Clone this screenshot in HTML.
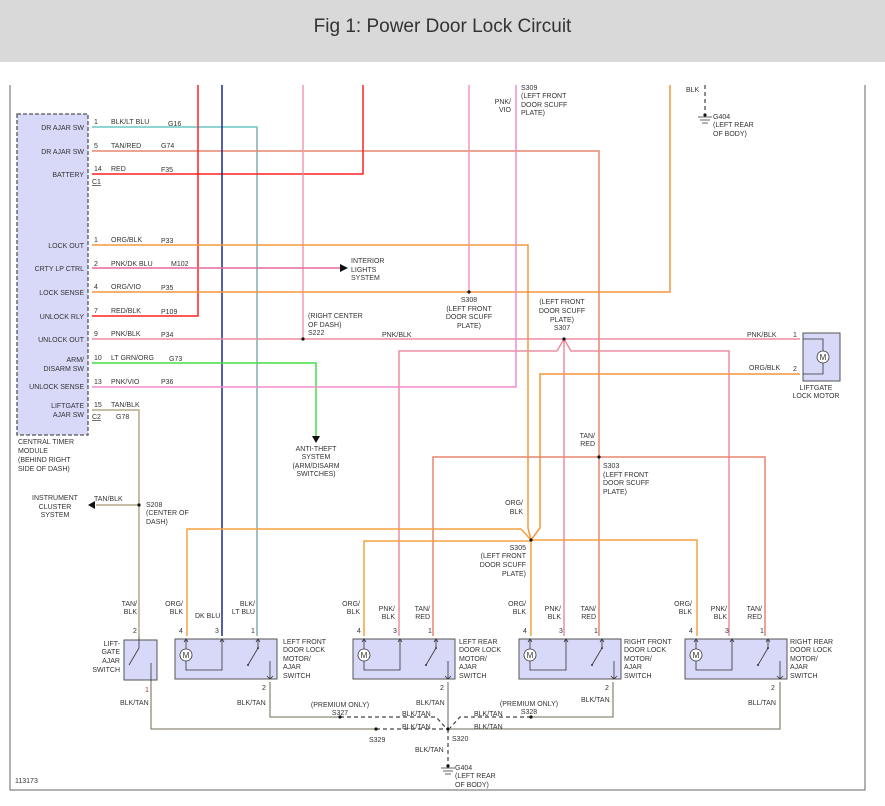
<!DOCTYPE html>
<html><head><meta charset="utf-8"><style>
html,body{margin:0;padding:0;background:#fff;}
body{width:885px;height:806px;overflow:hidden;font-family:"Liberation Sans",sans-serif;}
.hdr{position:absolute;left:0;top:0;width:885px;height:62px;background:#d9d9d9;text-align:center;line-height:54px;font-size:19px;color:#333;}
svg{position:absolute;left:0;top:0;}
text{font-family:"Liberation Sans",sans-serif;font-size:7px;fill:#333;}
.r{text-anchor:end}.m{text-anchor:middle}
</style></head><body>
<div class="hdr">Fig 1: Power Door Lock Circuit</div>
<svg width="885" height="806" viewBox="0 0 885 806">
<defs>
<g id="door">
<rect x="0" y="0" width="102" height="40" fill="#d8d8f8" stroke="#555" stroke-width="1"/>
<circle cx="11" cy="16" r="6" fill="#fff" stroke="#333" stroke-width="0.8"/>
<text x="11" y="19" class="m" style="font-size:8px">M</text>
<path d="M11 0V10M11 22V31H47V0M83 0V8M83 9L73 26" fill="none" stroke="#333" stroke-width="0.8"/>
<circle cx="83" cy="9" r="1" fill="#333"/><circle cx="73" cy="26" r="1" fill="#333"/>
<path d="M95 22V40M92 37L95 40L98 37M9 3L11 0L13 3M45 3L47 0L49 3M81 3L83 0L85 3" fill="none" stroke="#333" stroke-width="0.8"/>
</g>
</defs>
<!-- frame -->
<path d="M10 85V790H865V85" fill="none" stroke="#666" stroke-width="1"/>
<!-- module -->
<rect x="17" y="114" width="71" height="321" fill="#d8d8f8" stroke="#555" stroke-width="1.3" stroke-dasharray="4,2"/>
<g font-size="7">
<text x="84" y="130" class="r">DR AJAR SW</text>
<text x="84" y="154" class="r">DR AJAR SW</text>
<text x="84" y="177" class="r">BATTERY</text>
<text x="84" y="248" class="r">LOCK OUT</text>
<text x="84" y="271" class="r">CRTY LP CTRL</text>
<text x="84" y="295" class="r">LOCK SENSE</text>
<text x="84" y="319" class="r">UNLOCK RLY</text>
<text x="84" y="342" class="r">UNLOCK OUT</text>
<text x="84" y="362" class="r">ARM/</text>
<text x="84" y="371" class="r">DISARM SW</text>
<text x="84" y="389" class="r">UNLOCK SENSE</text>
<text x="84" y="408" class="r">LIFTGATE</text>
<text x="84" y="417" class="r">AJAR SW</text>
<text x="18" y="444">CENTRAL TIMER</text>
<text x="18" y="453">MODULE</text>
<text x="18" y="462">(BEHIND RIGHT</text>
<text x="18" y="471">SIDE OF DASH)</text>
</g>
<!-- wires -->
<g fill="none" stroke-width="1.5">
<path d="M92 127H257V636" stroke="#6cc6c6"/>
<path d="M257 128V636" stroke="#999" stroke-width="0.8"/>
<path d="M92 151H599V636" stroke="#e8856e"/>
<path d="M92 174H363V85" stroke="#ff2020"/>
<path d="M198 85V316H92" stroke="#ff2020"/>
<path d="M222 85V636" stroke="#1a2a8c"/>
<path d="M303 85V339" stroke="#f39aae"/>
<path d="M92 245H528V528L531 540" stroke="#f39a3e"/>
<path d="M92 268H340" stroke="#e46a9a"/>
<path d="M92 292H670V85" stroke="#f7963e"/>
<path d="M469 85V292" stroke="#f39aae"/>
<path d="M92 339H800" stroke="#ee8ea2"/>
<path d="M557 351L564 339L571 351H729V636M557 351H399V636M564 339V636" stroke="#ec8da0"/>
<path d="M92 363H316V436" stroke="#44e044"/>
<path d="M92 387H516V85" stroke="#f28ccd"/>
<path d="M92 410H139V636" stroke="#b5a88a"/>
<path d="M139 505H96" stroke="#b5a88a"/>
<path d="M800 374H540V528L531 540" stroke="#f7963e"/>
<path d="M433 636V457H765V636" stroke="#e8856e"/>
<path d="M187 636V529H521L531 540H697V636M364 636V541H531V636" stroke="#f7a040"/>
<!-- grounds -->
<path d="M151 682V729H376M448 729H780V682M270 682V717H340M613 682V717H531M448 682V729" stroke="#8e8a78" stroke-width="1.3"/>
<path d="M376 729H448M340 717H436L446 728M531 717H460L450 728M448 729V766M705 85V113" stroke="#444" stroke-width="1.2" stroke-dasharray="4,3"/>
</g>
<!-- arrows -->
<path d="M340 264L348 268L340 272Z" fill="#111"/>
<path d="M312 436L316 443L320 436Z" fill="#111"/>
<path d="M95 501L88 505L95 509Z" fill="#111"/>
<!-- splice dots -->
<g fill="#111">
<circle cx="303" cy="339" r="1.6"/><circle cx="469" cy="292" r="1.6"/><circle cx="564" cy="339" r="1.6"/>
<circle cx="599" cy="457" r="1.6"/><circle cx="531" cy="540" r="1.6"/><circle cx="139" cy="505" r="1.6"/>
<circle cx="376" cy="729" r="1.6"/><circle cx="448" cy="729" r="1.6"/><circle cx="340" cy="717" r="1.6"/><circle cx="531" cy="717" r="1.6"/>
<circle cx="705" cy="115" r="1.6"/><circle cx="448" cy="766" r="1.6"/>
</g>
<path d="M698 117H712M700 120H710M702 123H708M441 768H455M443 771H453M445 774H451" stroke="#333" stroke-width="0.8"/>
<!-- wire labels -->
<g>
<text x="94" y="124">1</text><text x="111" y="124">BLK/LT BLU</text><text x="168" y="126">G16</text>
<text x="94" y="148">5</text><text x="111" y="148">TAN/RED</text><text x="161" y="148">G74</text>
<text x="94" y="171">14</text><text x="111" y="171">RED</text><text x="161" y="172">F35</text>
<text x="92" y="184" text-decoration="underline">C1</text>
<text x="94" y="242">1</text><text x="111" y="242">ORG/BLK</text><text x="161" y="243">P33</text>
<text x="94" y="266">2</text><text x="111" y="266">PNK/DK BLU</text><text x="171" y="266">M102</text>
<text x="94" y="289">4</text><text x="111" y="289">ORG/VIO</text><text x="161" y="290">P35</text>
<text x="94" y="313">7</text><text x="111" y="313">RED/BLK</text><text x="161" y="314">P109</text>
<text x="94" y="336">9</text><text x="111" y="336">PNK/BLK</text><text x="161" y="337">P34</text>
<text x="94" y="360">10</text><text x="111" y="360">LT GRN/ORG</text><text x="169" y="361">G73</text>
<text x="94" y="384">13</text><text x="111" y="384">PNK/VIO</text><text x="161" y="384">P36</text>
<text x="94" y="407">15</text><text x="111" y="407">TAN/BLK</text>
<text x="92" y="419" text-decoration="underline">C2</text><text x="116" y="419">G78</text>
<text x="351" y="263">INTERIOR</text><text x="351" y="272">LIGHTS</text><text x="351" y="280">SYSTEM</text>
<text x="308" y="318">(RIGHT CENTER</text><text x="308" y="327">OF DASH)</text><text x="308" y="335">S222</text>
<text x="382" y="337">PNK/BLK</text>
<text x="469" y="302" class="m">S308</text><text x="469" y="311" class="m">(LEFT FRONT</text><text x="469" y="319" class="m">DOOR SCUFF</text><text x="469" y="328" class="m">PLATE)</text>
<text x="562" y="304" class="m">(LEFT FRONT</text><text x="562" y="313" class="m">DOOR SCUFF</text><text x="562" y="322" class="m">PLATE)</text><text x="562" y="330" class="m">S307</text>
<text x="747" y="337">PNK/BLK</text><text x="793" y="337">1</text>
<text x="749" y="370">ORG/BLK</text><text x="793" y="371">2</text>
<text x="816" y="390" class="m">LIFTGATE</text><text x="816" y="398" class="m">LOCK MOTOR</text>
<text x="511" y="104" class="r">PNK/</text><text x="511" y="112" class="r">VIO</text>
<text x="521" y="90">S309</text><text x="521" y="98">(LEFT FRONT</text><text x="521" y="107">DOOR SCUFF</text><text x="521" y="115">PLATE)</text>
<text x="686" y="92">BLK</text>
<text x="713" y="119">G404</text><text x="713" y="127">(LEFT REAR</text><text x="713" y="136">OF BODY)</text>
<text x="595" y="438" class="r">TAN/</text><text x="595" y="446" class="r">RED</text>
<text x="603" y="468">S303</text><text x="603" y="477">(LEFT FRONT</text><text x="603" y="485">DOOR SCUFF</text><text x="603" y="494">PLATE)</text>
<text x="523" y="505" class="r">ORG/</text><text x="523" y="514" class="r">BLK</text>
<text x="526" y="550" class="r">S305</text><text x="526" y="558" class="r">(LEFT FRONT</text><text x="526" y="567" class="r">DOOR SCUFF</text><text x="526" y="576" class="r">PLATE)</text>
<text x="316" y="451" class="m">ANTI-THEFT</text><text x="316" y="459" class="m">SYSTEM</text><text x="316" y="468" class="m">(ARM/DISARM</text><text x="316" y="476" class="m">SWITCHES)</text>
<text x="55" y="500" class="m">INSTRUMENT</text><text x="55" y="509" class="m">CLUSTER</text><text x="55" y="517" class="m">SYSTEM</text>
<text x="94" y="501">TAN/BLK</text>
<text x="146" y="507">S208</text><text x="146" y="515">(CENTER OF</text><text x="146" y="524">DASH)</text>
</g>
<!-- liftgate motor -->
<rect x="803" y="333" width="37" height="48" fill="#d8d8f8" stroke="#555"/>
<circle cx="823" cy="357" r="6" fill="#fff" stroke="#333" stroke-width="0.8"/>
<text x="823" y="360" class="m" style="font-size:8px">M</text>
<path d="M803 339H823V351M823 363V374H803" fill="none" stroke="#333" stroke-width="0.8"/>
<!-- liftgate switch -->
<rect x="124" y="640" width="33" height="40" fill="#d8d8f8" stroke="#555"/>
<path d="M139 636V648L129 665M151 663V682" fill="none" stroke="#333" stroke-width="0.8"/>
<text x="120" y="646" class="r">LIFT-</text><text x="120" y="654" class="r">GATE</text><text x="120" y="663" class="r">AJAR</text><text x="120" y="672" class="r">SWITCH</text>
<!-- doors -->
<use href="#door" x="175" y="639"/>
<use href="#door" x="353" y="639"/>
<use href="#door" x="519" y="639"/>
<use href="#door" x="685" y="639"/>
<g>
<text x="137" y="606" class="r">TAN/</text><text x="137" y="614" class="r">BLK</text><text x="133" y="633">2</text>
<text x="183" y="606" class="r">ORG/</text><text x="183" y="614" class="r">BLK</text><text x="195" y="618">DK BLU</text>
<text x="255" y="606" class="r">BLK/</text><text x="255" y="614" class="r">LT BLU</text>
<text x="179" y="633">4</text><text x="215" y="633">3</text><text x="251" y="633">1</text>
<text x="283" y="644">LEFT FRONT</text><text x="283" y="652">DOOR LOCK</text><text x="283" y="661">MOTOR/</text><text x="283" y="669">AJAR</text><text x="283" y="678">SWITCH</text>

<text x="360" y="606" class="r">ORG/</text><text x="360" y="614" class="r">BLK</text>
<text x="395" y="611" class="r">PNK/</text><text x="395" y="619" class="r">BLK</text>
<text x="430" y="611" class="r">TAN/</text><text x="430" y="619" class="r">RED</text>
<text x="357" y="633">4</text><text x="393" y="633">3</text><text x="428" y="633">1</text>
<text x="459" y="644">LEFT REAR</text><text x="459" y="652">DOOR LOCK</text><text x="459" y="661">MOTOR/</text><text x="459" y="669">AJAR</text><text x="459" y="678">SWITCH</text>

<text x="526" y="606" class="r">ORG/</text><text x="526" y="614" class="r">BLK</text>
<text x="561" y="611" class="r">PNK/</text><text x="561" y="619" class="r">BLK</text>
<text x="596" y="611" class="r">TAN/</text><text x="596" y="619" class="r">RED</text>
<text x="523" y="633">4</text><text x="559" y="633">3</text><text x="594" y="633">1</text>
<text x="624" y="644">RIGHT FRONT</text><text x="624" y="652">DOOR LOCK</text><text x="624" y="661">MOTOR/</text><text x="624" y="669">AJAR</text><text x="624" y="678">SWITCH</text>

<text x="692" y="606" class="r">ORG/</text><text x="692" y="614" class="r">BLK</text>
<text x="727" y="611" class="r">PNK/</text><text x="727" y="619" class="r">BLK</text>
<text x="762" y="611" class="r">TAN/</text><text x="762" y="619" class="r">RED</text>
<text x="689" y="633">4</text><text x="725" y="633">3</text><text x="760" y="633">1</text>
<text x="790" y="644">RIGHT REAR</text><text x="790" y="652">DOOR LOCK</text><text x="790" y="661">MOTOR/</text><text x="790" y="669">AJAR</text><text x="790" y="678">SWITCH</text>

<text x="145" y="692" fill="#a33" style="fill:#a33">1</text><text x="120" y="705">BLK/TAN</text>
<text x="262" y="690">2</text><text x="237" y="705">BLK/TAN</text>
<text x="440" y="690">2</text><text x="416" y="705">BLK/TAN</text>
<text x="605" y="690">2</text><text x="581" y="702">BLK/TAN</text>
<text x="771" y="690">2</text><text x="748" y="705">BLL/TAN</text>
<text x="340" y="707" class="m">(PREMIUM ONLY)</text><text x="340" y="715" class="m">S327</text>
<text x="529" y="706" class="m">(PREMIUM ONLY)</text><text x="529" y="714" class="m">S328</text>
<text x="402" y="716">BLK/TAN</text><text x="474" y="716">BLK/TAN</text>
<text x="402" y="729">BLK/TAN</text><text x="474" y="729">BLK/TAN</text>
<text x="369" y="742">S329</text><text x="452" y="741">S320</text>
<text x="415" y="752">BLK/TAN</text>
<text x="455" y="770">G404</text><text x="455" y="778">(LEFT REAR</text><text x="455" y="787">OF BODY)</text>
<text x="15" y="783">113173</text>
</g>
</svg>
</body></html>
